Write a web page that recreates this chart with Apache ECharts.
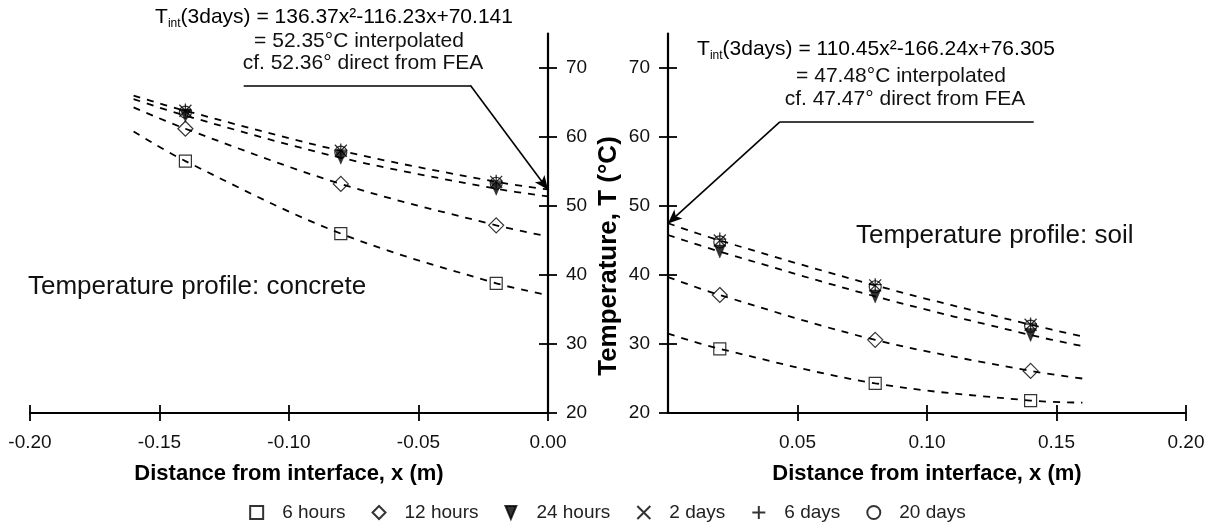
<!DOCTYPE html>
<html><head><meta charset="utf-8">
<script src="https://cdn.jsdelivr.net/npm/echarts@6/dist/echarts.min.js"></script>
<style>html,body{margin:0;padding:0;background:#fff}#c{width:1215px;height:531px}</style>
</head><body><div id="c"></div>
<script>
// ---- data ----
const concreteX = [-0.14, -0.08, -0.02];
const soilX = [0.02, 0.08, 0.14];

const concrete6h  = [56.5, 46.0, 38.8];
const concrete12h = [61.2, 53.2, 47.2];
const concrete24h = [63.1, 57.0, 52.5];
const concrete2d  = [63.8, 58.0, 53.5];
const concrete6d  = [63.9, 58.1, 53.6];
const concrete20d = [63.6, 57.8, 53.3];

const soil6h  = [29.3, 24.3, 21.8];
const soil12h = [37.1, 30.6, 26.1];
const soil24h = [43.4, 36.9, 31.3];
const soil2d  = [45.0, 38.5, 32.8];
const soil6d  = [45.2, 38.6, 32.9];
const soil20d = [44.8, 38.3, 32.6];

// dashed fitted curves
const concreteFitX    = [-0.16, -0.14, -0.08, -0.02, 0];
const concreteFitLate = [66.0, 63.8, 58.0, 53.5, 52.4];
const concreteFit24h  = [65.5, 63.1, 57.0, 52.5, 51.4];
const concreteFit12h  = [64.3, 61.2, 53.2, 47.2, 45.6];
const concreteFit6h   = [60.8, 56.5, 46.0, 38.8, 37.1];

const soilFitX    = [0, 0.02, 0.08, 0.14, 0.16];
const soilFitLate = [47.5, 45.0, 38.5, 32.8, 31.1];
const soilFit24h  = [45.8, 43.4, 36.9, 31.3, 29.7];
const soilFit12h  = [39.7, 37.1, 30.6, 26.1, 25.0];
const soilFit6h   = [31.5, 29.3, 24.3, 21.8, 21.5];

// ticks
const yTicks = [20, 30, 40, 50, 60, 70];
const concreteXTicks = [-0.20, -0.15, -0.10, -0.05, 0.00];
const soilXTicks = [0.05, 0.10, 0.15, 0.20];

const legendNames = ['6 hours', '12 hours', '24 hours', '2 days', '6 days', '20 days'];

// annotations
const concreteInterp = 52.35;
const soilInterp = 47.48;
const concreteLeader = [[-0.1175, 67.5], [-0.030, 67.5]];
const soilLeader = [[0.1412, 62.2], [0.0432, 62.2]];
const concreteNote = ['(3days) = 136.37x²-116.23x+70.141', '= 52.35°C interpolated', 'cf. 52.36° direct from FEA'];
const soilNote = ['(3days) = 110.45x²-166.24x+76.305', '= 47.48°C interpolated', 'cf. 47.47° direct from FEA'];

// ---- chart ----
const FONT = 'Liberation Sans, Arial, sans-serif';
const BLACK = '#000';
const pairs = (xs, ys) => xs.map((x, i) => [x, ys[i]]);

const SYM = {
  '6 hours':  {symbol: 'rect', symbolSize: 12, itemStyle: {color: 'transparent', borderColor: BLACK, borderWidth: 1.2}},
  '12 hours': {symbol: 'diamond', symbolSize: [15, 15], itemStyle: {color: 'transparent', borderColor: BLACK, borderWidth: 1.2}},
  '24 hours': {symbol: 'path://M0,0L10,0L5,12Z', symbolSize: [11, 13], itemStyle: {color: BLACK, borderColor: BLACK, borderWidth: 0.5}},
  '2 days':   {symbol: 'path://M0,0L10,10M10,0L0,10', symbolSize: 12, itemStyle: {color: 'transparent', borderColor: BLACK, borderWidth: 1.3}},
  '6 days':   {symbol: 'path://M5,0L5,10M0,5L10,5', symbolSize: 13, itemStyle: {color: 'transparent', borderColor: BLACK, borderWidth: 1.3}},
  '20 days':  {symbol: 'circle', symbolSize: 12, itemStyle: {color: 'transparent', borderColor: BLACK, borderWidth: 1.2}}
};

function scatter(name, xs, ys, gi) {
  return Object.assign({
    type: 'scatter', name: name, xAxisIndex: gi * 2, yAxisIndex: gi * 2,
    data: pairs(xs, ys), z: 5, silent: true
  }, SYM[name]);
}
function fit(id, xs, ys, gi, markLine) {
  const s = {
    type: 'line', name: id, xAxisIndex: gi * 2, yAxisIndex: gi * 2,
    data: pairs(xs, ys), smooth: 0.35, symbol: 'none', z: 3, silent: true,
    lineStyle: {color: BLACK, width: 1.8, type: [7, 7]}
  };
  if (markLine) s.markLine = markLine;
  return s;
}
function leader(seg, tipX, tipY) {
  return {
    silent: true, symbol: ['none', 'none'], animation: false,
    lineStyle: {color: BLACK, width: 1.6, type: 'solid'},
    label: {show: false},
    data: [
      [{coord: seg[0]}, {coord: seg[1]}],
      [{coord: seg[1]}, {coord: [tipX, tipY], symbol: 'arrow', symbolSize: [9, 14]}]
    ]
  };
}

function xAxisPair(gi, min, max, ticks, nameText) {
  const base = {
    gridIndex: gi, type: 'value', min: min, max: max, position: 'bottom',
    splitLine: {show: false}
  };
  return [
    Object.assign({}, base, {
      axisLine: {show: true, onZero: false, lineStyle: {color: BLACK, width: 1.8}},
      axisTick: {show: true, inside: false, length: 8, customValues: ticks, lineStyle: {color: BLACK, width: 1.8}},
      axisLabel: {show: true, customValues: ticks, formatter: v => v.toFixed(2), margin: 20,
        fontFamily: FONT, fontSize: 19, color: '#111'},
      name: nameText, nameLocation: 'middle', nameGap: 50,
      nameTextStyle: {fontFamily: FONT, fontSize: 22, fontWeight: 'bold', color: BLACK}
    }),
    Object.assign({}, base, {
      axisLine: {show: false},
      axisTick: {show: true, inside: true, length: 8, customValues: ticks, lineStyle: {color: BLACK, width: 1.8}},
      axisLabel: {show: false}
    })
  ];
}
function yAxisPair(gi, pos) {
  const base = {
    gridIndex: gi, type: 'value', min: 20, max: 75, position: pos,
    splitLine: {show: false}
  };
  return [
    Object.assign({}, base, {
      axisLine: {show: true, onZero: false, lineStyle: {color: BLACK, width: 2.2}},
      axisTick: {show: true, inside: false, length: 9, customValues: yTicks, lineStyle: {color: BLACK, width: 1.8}},
      axisLabel: {show: true, customValues: yTicks, margin: 18, fontFamily: FONT, fontSize: 19, color: '#111'}
    }),
    Object.assign({}, base, {
      axisLine: {show: false},
      axisTick: {show: true, inside: true, length: 9, customValues: yTicks, lineStyle: {color: BLACK, width: 1.8}},
      axisLabel: {show: false}
    })
  ];
}

function note(lines, cx1, cx2, ys) {
  const rich = {
    m: {fontFamily: FONT, fontSize: 21, color: '#111', lineHeight: 26},
    s: {fontFamily: FONT, fontSize: 12, color: '#111', lineHeight: 12, verticalAlign: 'bottom'}
  };
  return [
    {type: 'text', x: cx1, y: ys[0], silent: true,
      style: {text: '{m|T}{s|int}{m|' + lines[0] + '}', rich: rich, align: 'center', verticalAlign: 'middle'}},
    {type: 'text', x: cx2, y: ys[1], silent: true,
      style: {text: lines[1], fontFamily: FONT, fontSize: 21, fill: '#111', align: 'center', verticalAlign: 'middle'}},
    {type: 'text', x: cx2 + 4, y: ys[2], silent: true,
      style: {text: lines[2], fontFamily: FONT, fontSize: 21, fill: '#111', align: 'center', verticalAlign: 'middle'}}
  ];
}

const series = [
  fit('cf6h', concreteFitX, concreteFit6h, 0),
  fit('cf12h', concreteFitX, concreteFit12h, 0),
  fit('cf24h', concreteFitX, concreteFit24h, 0),
  fit('cfLate', concreteFitX, concreteFitLate, 0, leader(concreteLeader, 0, concreteInterp)),
  fit('sf6h', soilFitX, soilFit6h, 1),
  fit('sf12h', soilFitX, soilFit12h, 1),
  fit('sf24h', soilFitX, soilFit24h, 1),
  fit('sfLate', soilFitX, soilFitLate, 1, leader(soilLeader, 0, soilInterp)),
  scatter('6 hours', concreteX, concrete6h, 0),
  scatter('12 hours', concreteX, concrete12h, 0),
  scatter('24 hours', concreteX, concrete24h, 0),
  scatter('2 days', concreteX, concrete2d, 0),
  scatter('6 days', concreteX, concrete6d, 0),
  scatter('20 days', concreteX, concrete20d, 0),
  scatter('6 hours', soilX, soil6h, 1),
  scatter('12 hours', soilX, soil12h, 1),
  scatter('24 hours', soilX, soil24h, 1),
  scatter('2 days', soilX, soil2d, 1),
  scatter('6 days', soilX, soil6d, 1),
  scatter('20 days', soilX, soil20d, 1)
];

const chart = echarts.init(document.getElementById('c'), null, {renderer: 'canvas'});
chart.setOption({
  animation: false,
  backgroundColor: '#fff',
  grid: [
    {left: 30, top: 33.5, width: 518, height: 379.5},
    {left: 668, top: 33.5, width: 518, height: 379.5}
  ],
  xAxis: [].concat(
    xAxisPair(0, -0.2, 0, concreteXTicks, 'Distance from interface, x (m)'),
    xAxisPair(1, 0, 0.2, soilXTicks, 'Distance from interface, x (m)')
  ),
  yAxis: [].concat(yAxisPair(0, 'right'), yAxisPair(1, 'left')),
  legend: {
    data: legendNames, bottom: 4, left: 'center', itemWidth: 13, itemHeight: 13, itemGap: 26,
    textStyle: {fontFamily: FONT, fontSize: 19, color: '#222', padding: [0, 0, 0, 14]},
    selectedMode: false
  },
  series: series,
  graphic: [].concat(
    note(concreteNote, 334, 359, [17, 41, 63]),
    note(soilNote, 876, 901, [49, 76, 99]),
    [
      {type: 'text', x: 28, y: 287, silent: true,
        style: {text: 'Temperature profile: concrete', fontFamily: FONT, fontSize: 26, fill: '#111', verticalAlign: 'middle'}},
      {type: 'text', x: 856, y: 236, silent: true,
        style: {text: 'Temperature profile: soil', fontFamily: FONT, fontSize: 26, fill: '#111', verticalAlign: 'middle'}},
      {type: 'text', x: 609, y: 256, rotation: Math.PI / 2, silent: true,
        style: {text: 'Temperature, T (°C)', fontFamily: FONT, fontSize: 26, fontWeight: 'bold', fill: BLACK, align: 'center', verticalAlign: 'middle'}}
    ]
  )
});
</script>
</body></html>
